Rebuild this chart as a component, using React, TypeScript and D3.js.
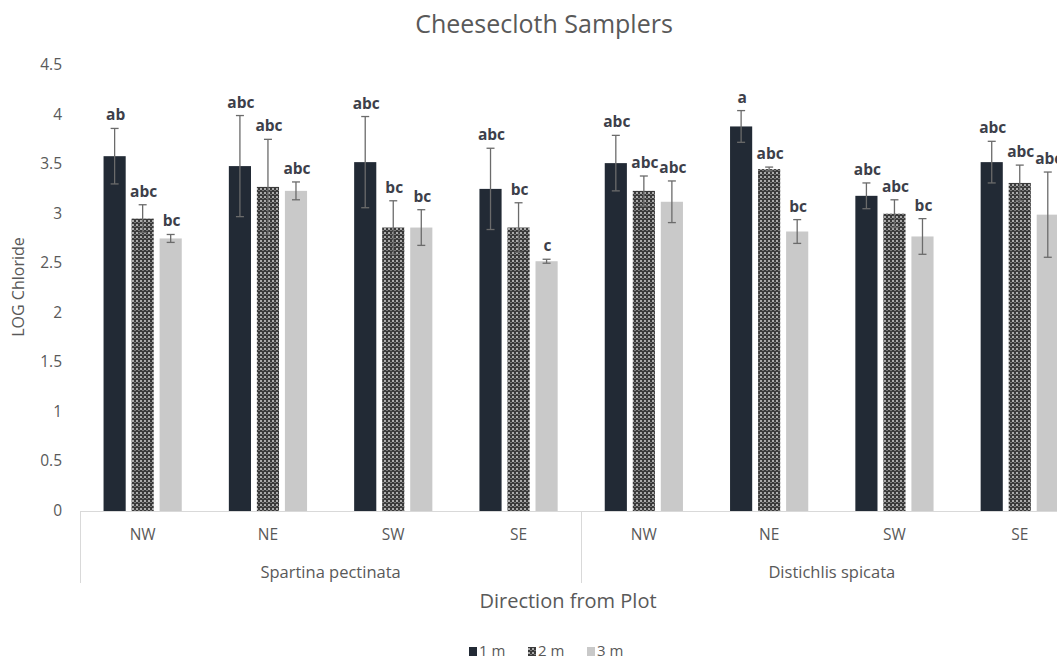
import React from "react";
import * as d3 from "d3";

// Direction categories, grouped by species
const categories = ["NW", "NE", "SW", "SE", "NW", "NE", "SW", "SE"];
const groups = ["Spartina pectinata", "Distichlis spicata"];
const seriesNames = ["1 m", "2 m", "3 m"];

// Mean LOG chloride per distance
const mean1m = [3.58, 3.48, 3.52, 3.25, 3.51, 3.88, 3.18, 3.52];
const mean2m = [2.95, 3.27, 2.86, 2.86, 3.23, 3.45, 3.0, 3.31];
const mean3m = [2.75, 3.23, 2.86, 2.52, 3.12, 2.82, 2.77, 2.99];

// Standard error per distance
const err1m = [0.28, 0.51, 0.46, 0.41, 0.28, 0.16, 0.13, 0.21];
const err2m = [0.14, 0.48, 0.27, 0.25, 0.15, 0.02, 0.14, 0.18];
const err3m = [0.04, 0.09, 0.18, 0.02, 0.21, 0.12, 0.18, 0.43];

// Significance letters
const letters1m = ["ab", "abc", "abc", "abc", "abc", "a", "abc", "abc"];
const letters2m = ["abc", "abc", "bc", "bc", "abc", "abc", "abc", "abc"];
const letters3m = ["bc", "abc", "bc", "c", "abc", "bc", "bc", "abc"];

const yTicks = [0, 0.5, 1, 1.5, 2, 2.5, 3, 3.5, 4, 4.5];

const W = 1057;
const H = 662;
const FONT = "'Open Sans', sans-serif";
const TEXT = "#595959";
const AXIS = "#d9d9d9";
const FILLS = ["#222a35", "url(#weave)", "#c9c9c9"];

export default function App() {
  const plotLeft = 80;
  const catWidth = 125.3;
  const plotRight = plotLeft + catWidth * categories.length;

  const x0 = d3
    .scaleBand<number>()
    .domain(d3.range(categories.length))
    .range([plotLeft, plotRight])
    .padding(0);
  const x1 = d3
    .scaleBand<number>()
    .domain(d3.range(seriesNames.length))
    .range([0, x0.bandwidth()])
    .paddingInner(0.21)
    .paddingOuter(0.84);
  const y = d3.scaleLinear().domain([0, 4.5]).range([511, 65]);

  const means = [mean1m, mean2m, mean3m];
  const errs = [err1m, err2m, err3m];
  const letters = [letters1m, letters2m, letters3m];

  const bars = [] as any[];
  categories.forEach((_, ci) => {
    seriesNames.forEach((_, si) => {
      bars.push({
        ci,
        si,
        v: means[si][ci],
        e: errs[si][ci],
        lab: letters[si][ci],
      });
    });
  });

  const groupSize = categories.length / groups.length;
  const bw = x1.bandwidth();

  return (
    <svg
      width={W}
      height={H}
      style={{ position: "absolute", left: 0, top: 0, background: "#fff" }}
      fontFamily={FONT}
    >
      <defs>
        <pattern id="weave" width={4} height={4} patternUnits="userSpaceOnUse">
          <rect width={4} height={4} fill="#3a3a3a" />
          <rect x={0} y={0} width={2} height={2} fill="#ababab" />
          <rect x={2} y={2} width={2} height={1} fill="#7a7a7a" />
        </pattern>
      </defs>

      <text x={544} y={33} textAnchor="middle" fontSize={25} fill={TEXT}>
        Cheesecloth Samplers
      </text>

      {yTicks.map((t) => (
        <text
          key={t}
          x={62}
          y={y(t) + 5}
          textAnchor="end"
          fontSize={15.5}
          fill={TEXT}
        >
          {t}
        </text>
      ))}

      <text
        transform={`translate(24,${287}) rotate(-90)`}
        textAnchor="middle"
        fontSize={16}
        fill={TEXT}
      >
        LOG Chloride
      </text>

      {bars.map((b, i) => {
        const bx = (x0(b.ci) as number) + (x1(b.si) as number);
        const cx = bx + bw / 2;
        return (
          <g key={i}>
            <rect
              x={bx}
              y={y(b.v)}
              width={bw}
              height={y(0) - y(b.v)}
              fill={FILLS[b.si]}
            />
            <line x1={cx} x2={cx} y1={y(b.v - b.e)} y2={y(b.v + b.e)} stroke="#6b6b6b" strokeWidth={1.3} />
            <line x1={cx - 4} x2={cx + 4} y1={y(b.v + b.e)} y2={y(b.v + b.e)} stroke="#6b6b6b" strokeWidth={1.3} />
            <line x1={cx - 4} x2={cx + 4} y1={y(b.v - b.e)} y2={y(b.v - b.e)} stroke="#6b6b6b" strokeWidth={1.3} />
            <text
              x={cx + 1}
              y={y(b.v + b.e) - 8}
              textAnchor="middle"
              fontSize={15.5}
              fontWeight="bold"
              fill="#3d3f4a"
            >
              {b.lab}
            </text>
          </g>
        );
      })}

      <line x1={plotLeft} x2={plotRight} y1={511.5} y2={511.5} stroke={AXIS} strokeWidth={1} />
      {d3.range(groups.length + 1).map((g) => {
        const gx = Math.round(plotLeft + g * groupSize * catWidth) + 0.5;
        return (
          <line key={g} x1={gx} x2={gx} y1={511} y2={583} stroke={AXIS} strokeWidth={1} />
        );
      })}

      {categories.map((c, ci) => (
        <text
          key={ci}
          x={(x0(ci) as number) + x0.bandwidth() / 2}
          y={540}
          textAnchor="middle"
          fontSize={15.5}
          fill={TEXT}
        >
          {c}
        </text>
      ))}

      {groups.map((g, gi) => (
        <text
          key={g}
          x={plotLeft + (gi + 0.5) * groupSize * catWidth}
          y={578}
          textAnchor="middle"
          fontSize={16.5}
          fill={TEXT}
        >
          {g}
        </text>
      ))}

      <text x={568} y={608} textAnchor="middle" fontSize={20} fill={TEXT}>
        Direction from Plot
      </text>

      {seriesNames.map((s, si) => {
        const lx = 469 + si * 59;
        return (
          <g key={s}>
            <rect x={lx} y={647} width={8} height={9} fill={FILLS[si]} />
            <text x={lx + 10} y={656} fontSize={15} fill={TEXT}>
              {s}
            </text>
          </g>
        );
      })}
    </svg>
  );
}
